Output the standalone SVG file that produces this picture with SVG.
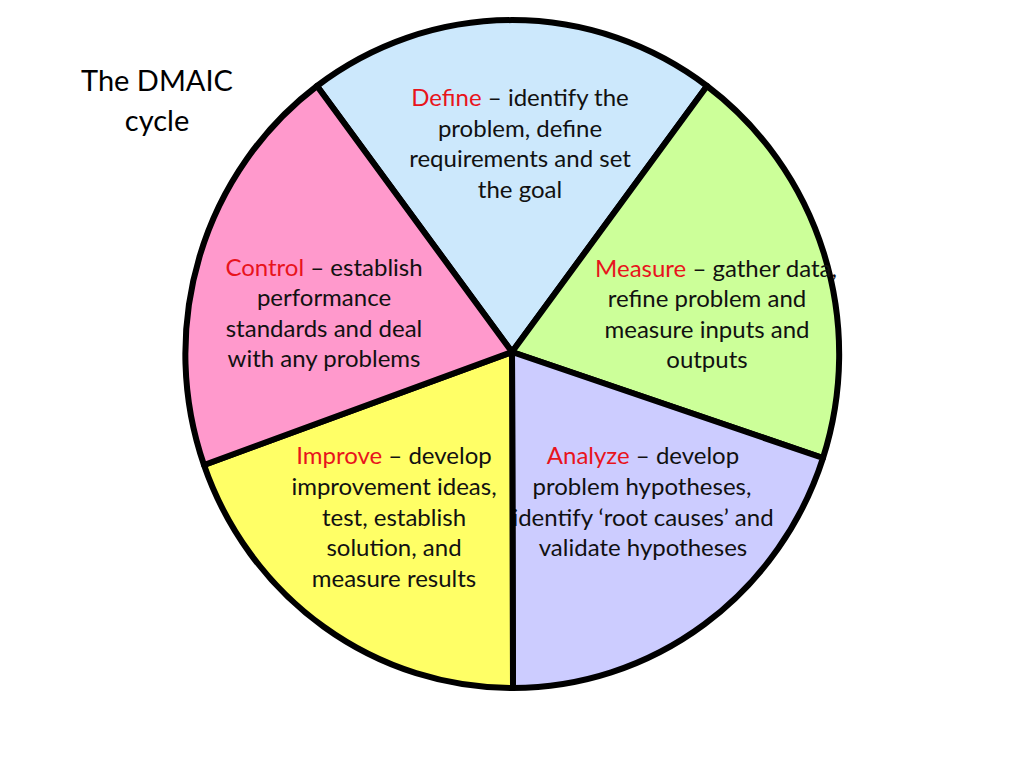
<svg xmlns="http://www.w3.org/2000/svg" width="1024" height="768" viewBox="0 0 1024 768">
<style>
.slice{stroke:#000;stroke-width:6;stroke-linejoin:round}
.t{font-family:Lato,"Liberation Sans",sans-serif;font-size:24px;fill:#111;text-anchor:middle}
.k{fill:#e8141c}
.title{font-family:Lato,"Liberation Sans",sans-serif;font-size:29px;fill:#000;text-anchor:middle}
</style>
<rect width="1024" height="768" fill="#fff"/>
<g id="title">
<text class="title" x="157" y="91">The DMAIC</text>
<text class="title" x="157" y="131">cycle</text>
</g>
<g id="define">
<path class="slice" fill="#cce8fc" d="M512,352 L317,86 A327,334 0 0 1 707,86 Z"/>
<text class="t" x="520" y="106"><tspan class="k">Define</tspan> – identify the</text>
<text class="t" x="520" y="137">problem, define</text>
<text class="t" x="520" y="167">requirements and set</text>
<text class="t" x="520" y="198">the goal</text>
</g>
<g id="measure">
<path class="slice" fill="#ccff99" d="M512,352 L707,86 A327,334 0 0 1 823,458 Z"/>
<text class="t" x="716" y="277"><tspan class="k">Measure</tspan> – gather data,</text>
<text class="t" x="707" y="307">refine problem and</text>
<text class="t" x="707" y="338">measure inputs and</text>
<text class="t" x="707" y="368">outputs</text>
</g>
<g id="analyze">
<path class="slice" fill="#ccccff" d="M512,352 L823,458 A327,334 0 0 1 513,688 Z"/>
<text class="t" x="643" y="464"><tspan class="k">Analyze</tspan> – develop</text>
<text class="t" x="642" y="495">problem hypotheses,</text>
<text class="t" x="643" y="526">identify ‘root causes’ and</text>
<text class="t" x="643" y="556">validate hypotheses</text>
</g>
<g id="improve">
<path class="slice" fill="#ffff66" d="M512,352 L513,688 A327,334 0 0 1 204,465 Z"/>
<text class="t" x="394" y="464"><tspan class="k">Improve</tspan> – develop</text>
<text class="t" x="394" y="495">improvement ideas,</text>
<text class="t" x="394" y="526">test, establish</text>
<text class="t" x="394" y="556">solution, and</text>
<text class="t" x="394" y="587">measure results</text>
</g>
<g id="control">
<path class="slice" fill="#ff99cc" d="M512,352 L204,465 A327,334 0 0 1 317,86 Z"/>
<text class="t" x="324" y="276"><tspan class="k">Control</tspan> – establish</text>
<text class="t" x="324" y="306">performance</text>
<text class="t" x="324" y="337">standards and deal</text>
<text class="t" x="324" y="367">with any problems</text>
</g>
<g id="connectors"/>
</svg>
